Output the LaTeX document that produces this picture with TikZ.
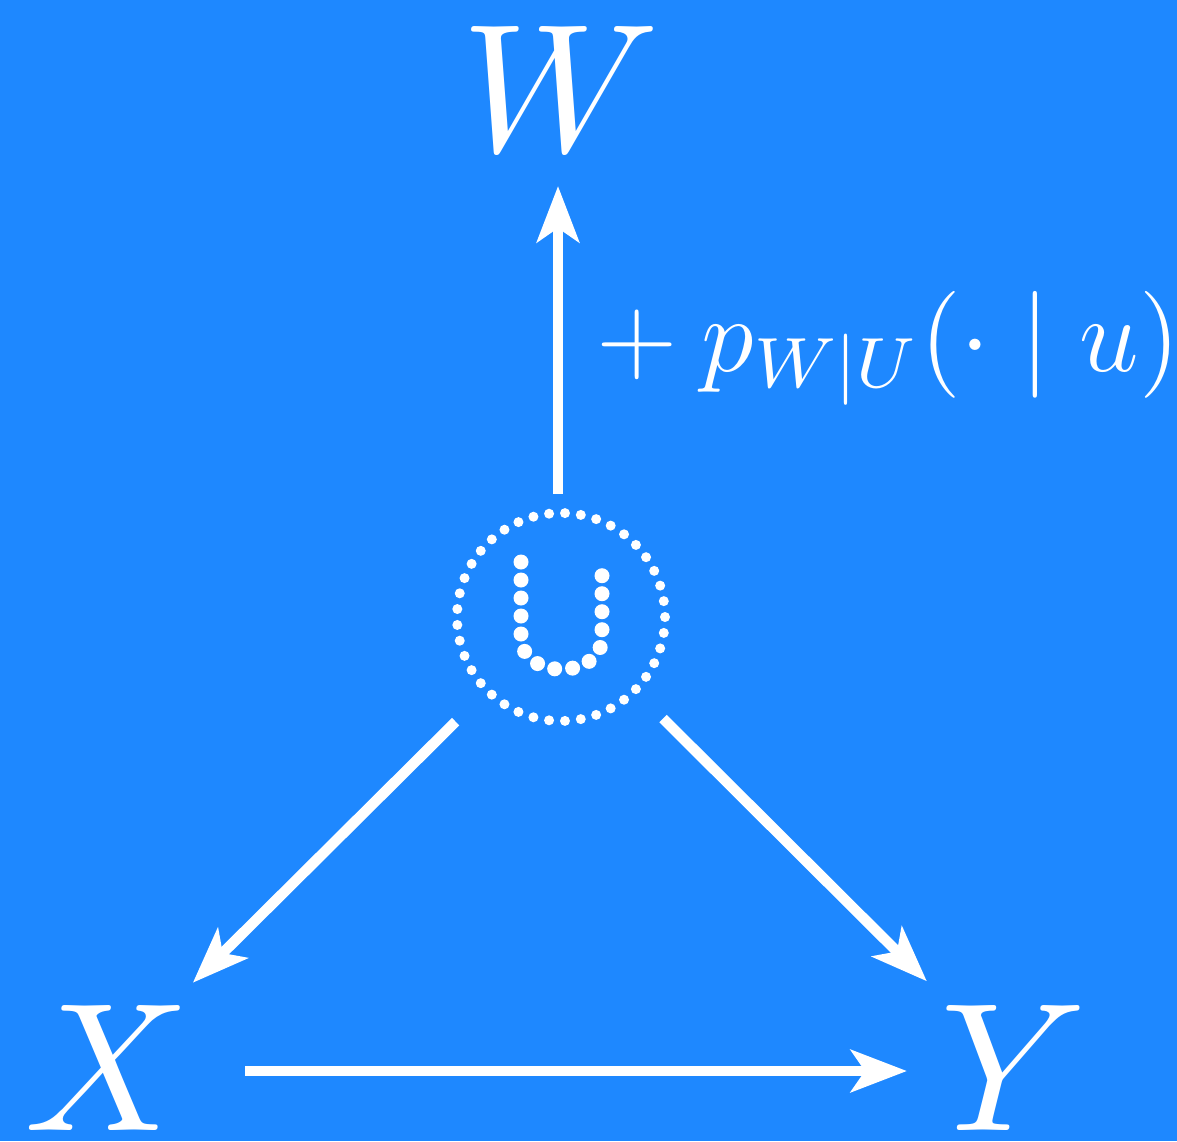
\documentclass[tikz,border=0pt]{standalone}
\usetikzlibrary{arrows.meta}
\definecolor{bg}{HTML}{1E88FF}
\begin{document}
\begin{tikzpicture}[x=0.5pt,y=-0.5pt,
  lbl/.style={text=white, inner sep=0pt, scale=9.15},
  arr/.style={draw=white, line width=5.25pt, -{Stealth[length=28pt,width=21pt,inset=7pt]}},
  ring/.style={draw=white, line width=5pt, line cap=round, dash pattern=on 0pt off 7.969pt},
  ulet/.style={draw=white, line width=7.5pt, line cap=round, dash pattern=on 0pt off 9pt},
]
\fill[bg] (0,0) rectangle (1177,1141);
\useasboundingbox (0,0) rectangle (1177,1141);
\node[lbl] (W) at (561,89) {$W$};
\node[lbl] (X) at (107,1068) {$X$};
\node[lbl] (Y) at (1014,1068) {$Y$};
\node[inner sep=0pt, minimum size=104pt, circle] (U) at (561,617) {};
\draw[ring] (U.center) circle[radius=52pt];
\draw[ulet] (521,562) -- (521,637) .. controls (521,680) and (602,680) .. (602,637) -- (602,560);
\node[text=white, inner sep=0pt, scale=4.45, anchor=base west, font=\large] (L) at (571,371) {${}+p_{W|U}(\cdot\mid u)$};
\draw[arr, shorten <=61.5pt, shorten >=48.5pt] ([xshift=-1.5pt]U.center) -- ([xshift=-1.5pt]W.center);
\draw[arr, shorten <=74.25pt, shorten >=60.5pt] (U.center) -- (X.center);
\draw[arr, shorten <=72pt, shorten >=61.5pt] (U.center) -- (Y.center);
\draw[arr, shorten <=69pt, shorten >=53.5pt] ([yshift=-1.5pt]X.center) -- ([yshift=-1.5pt]Y.center);
\end{tikzpicture}
\end{document}
